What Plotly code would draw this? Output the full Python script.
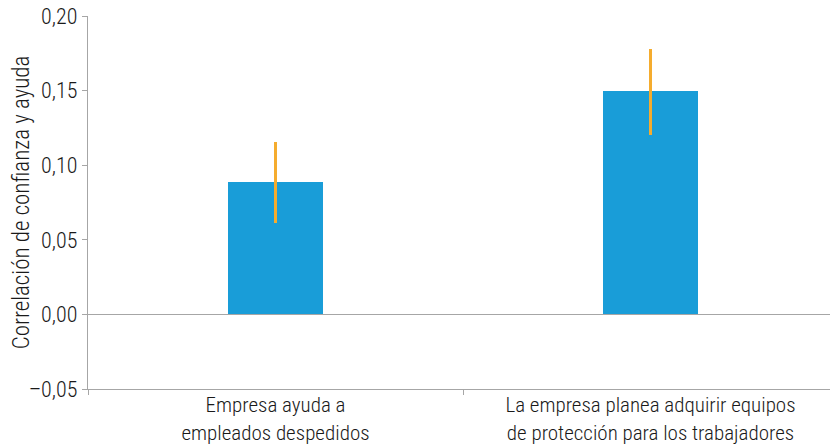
import plotly.graph_objects as go

categories = ["Empresa ayuda a<br>empleados despedidos",
              "La empresa planea adquirir equipos<br>de protección para los trabajadores"]
values = [0.0885, 0.1495]
err_plus = [0.0268, 0.0281]
err_minus = [0.0275, 0.0295]
y_ticks = [-0.05, 0.0, 0.05, 0.10, 0.15, 0.20]
y_tick_labels = ["\u20130,05", "0,00", "0,05", "0,10", "0,15", "0,20"]

FONT = "Roboto Condensed, Liberation Sans Narrow, Arial Narrow, sans-serif"
AXIS = "#a6a6a6"
TXT = "#1a1a1a"

fig = go.Figure()
fig.add_trace(go.Bar(
    x=categories, y=values, width=0.255,
    marker=dict(color="#199dd8", line=dict(width=0)),
    error_y=dict(type="data", symmetric=False, array=err_plus, arrayminus=err_minus,
                 color="#f5ac2e", thickness=2.2, width=0),
))

fig.update_layout(
    width=830, height=437,
    margin=dict(l=80, r=0, t=8, b=56),
    paper_bgcolor="white", plot_bgcolor="white",
    font=dict(family=FONT, size=21, color=TXT, weight=300),
    showlegend=False,
    bargap=0,
)
fig.update_yaxes(
    automargin=False,
    range=[-0.05, 0.20], tickvals=y_ticks, ticktext=y_tick_labels,
    ticklabeloverflow="allow",
    showgrid=False, zeroline=True, zerolinecolor=AXIS, zerolinewidth=1.3,
    showline=True, linecolor=AXIS, linewidth=1.3,
    ticks="outside", ticklen=5, tickcolor=AXIS, tickwidth=1.3,
    tickfont=dict(size=22, color=TXT, weight=300),
    title=dict(text="Correlación de confianza y ayuda", font=dict(size=23, weight=300), standoff=8),
)
fig.update_xaxes(
    automargin=False,
    range=[-0.5, 1.5],
    ticklabeloverflow="allow", ticklabelstandoff=-3,
    showgrid=False, showline=True, linecolor=AXIS, linewidth=1.3,
    ticks="outside", ticklen=5, tickcolor=AXIS, tickwidth=1.3, tickson="boundaries",
    tickfont=dict(size=21, color=TXT, weight=300),
)

fig.write_html("out.html")
